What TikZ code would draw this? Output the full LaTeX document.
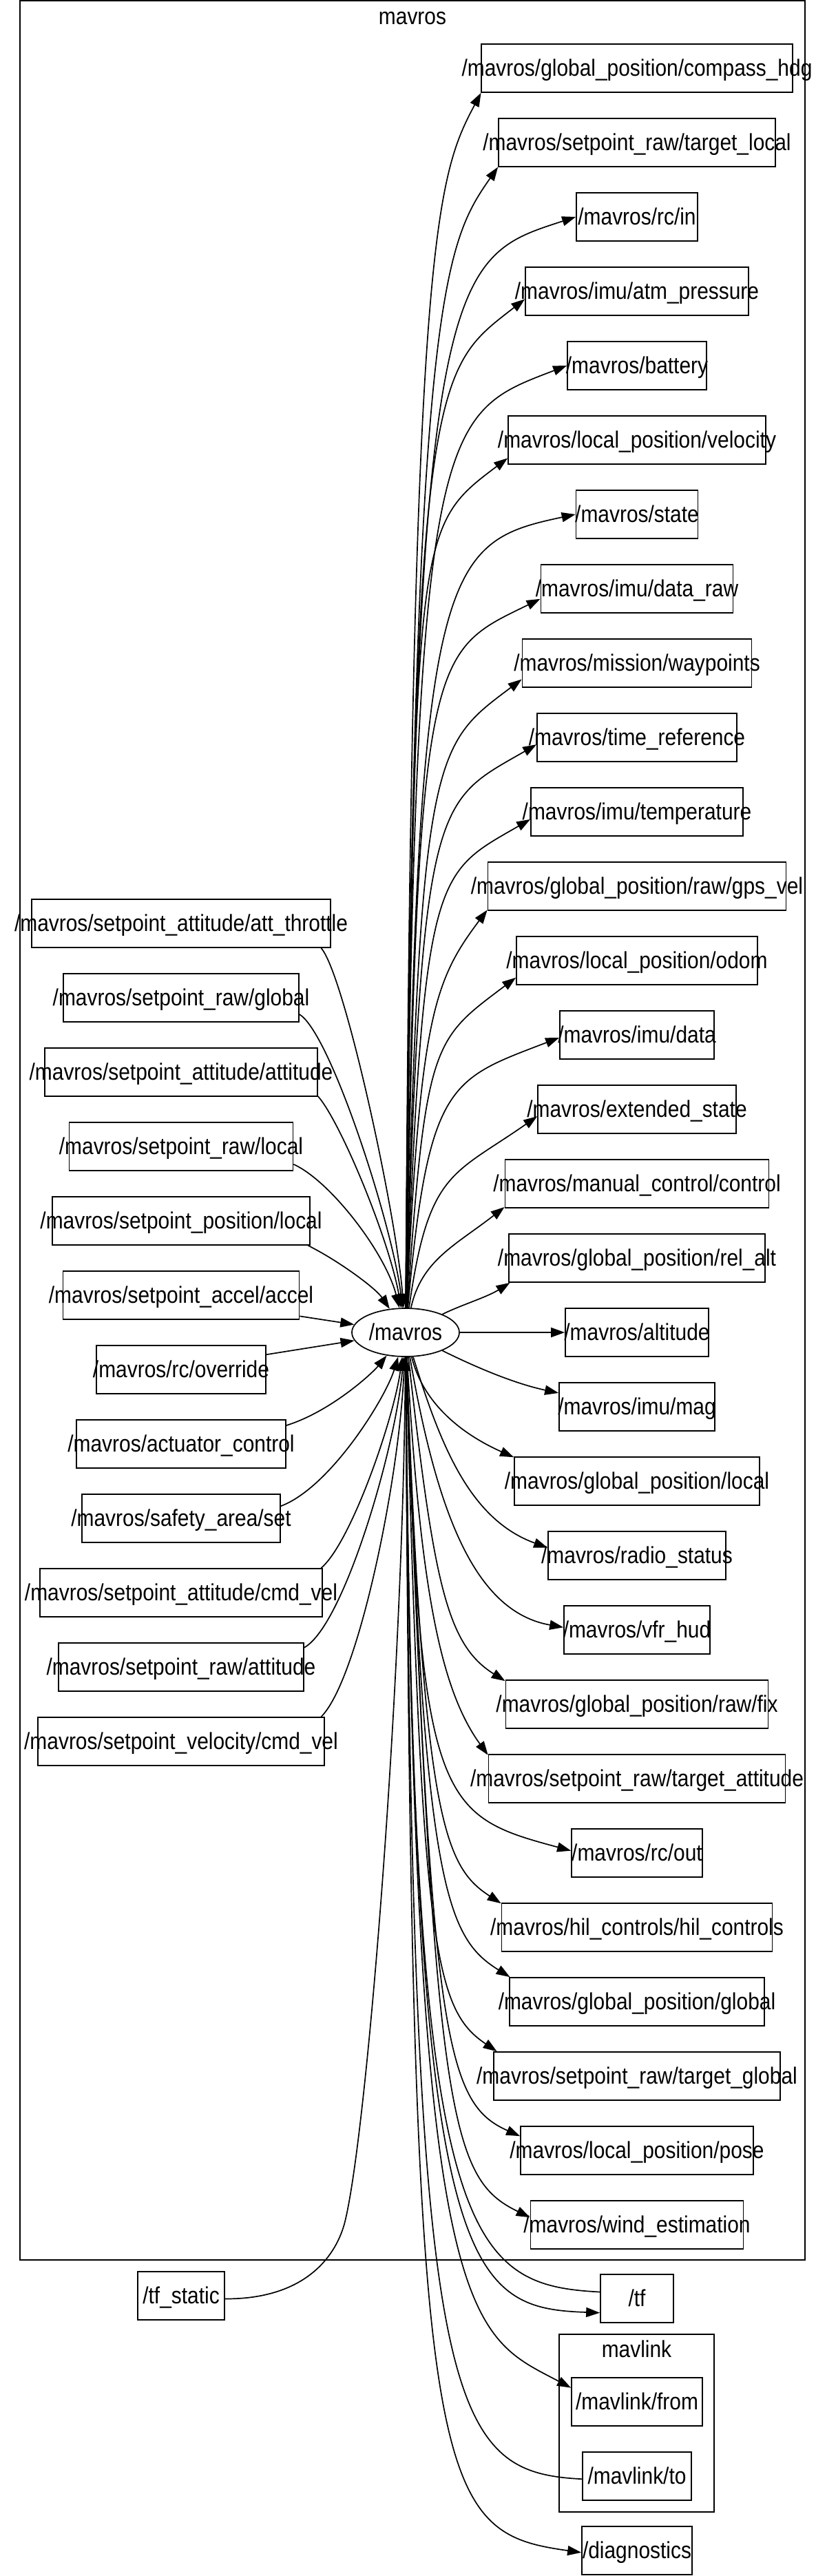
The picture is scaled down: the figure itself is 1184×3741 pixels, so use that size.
\documentclass[tikz,border=0pt]{standalone}
\usepackage{fontspec}
\setmainfont{Liberation Sans}[FakeStretch=0.88]
\usetikzlibrary{ shapes.geometric, % For the ellipse of the node
                 arrows.meta,      % For the filled arrow heads
               }
\tikzstyle{edge} = [-{Triangle[length=20pt, width=14pt]}, line width=1.7pt]
\tikzstyle{topic} = [rectangle, draw=black, line width=1.7pt, minimum height=70pt, inner sep=0pt]
\tikzstyle{vertex} = [ellipse, draw=black, line width=1.7pt, minimum width=156pt, minimum height=70pt, inner sep=0pt]
\tikzstyle{cluster} = [rectangle, draw=black, line width=1.7pt, inner sep=0pt]
\tikzstyle{title} = [text height=26pt, text depth=3pt, inner sep=0pt]
\tikzstyle{every label} = [text height=26pt, text depth=3pt, inner sep=0pt]

\begin{document}
\begin{tikzpicture}[x=1pt, y=1pt, font=\fontsize{34}{40}\selectfont]
  \useasboundingbox (0,0) rectangle (1184,-3741);

  \node (mavros_cluster) [cluster, minimum width=1140pt, minimum height=3281pt] at (599,-1641.5) {};
  \node (mavros_title) [title] at (599,-24) {mavros};
  \node (mavlink_cluster) [cluster, minimum width=225pt, minimum height=258pt] at (924.5,-3519) {};
  \node (mavlink_title) [title] at (924.5,-3411.5) {mavlink};

  \node (mavros) [vertex, label=center:{/mavros}] at (589,-1935) {};

  % topics the node listens to
  \node (att_throttle) [topic, minimum width=434pt, label=center:{/mavros/setpoint\_attitude/att\_throttle}] at (263,-1341) {};
  \node (raw_global) [topic, minimum width=342pt, label=center:{/mavros/setpoint\_raw/global}] at (263,-1449) {};
  \node (sp_attitude) [topic, minimum width=396pt, label=center:{/mavros/setpoint\_attitude/attitude}] at (263,-1557) {};
  \node (raw_local) [topic, minimum width=325pt, label=center:{/mavros/setpoint\_raw/local}] at (263,-1665) {};
  \node (position_local) [topic, minimum width=374pt, label=center:{/mavros/setpoint\_position/local}] at (263,-1773) {};
  \node (accel) [topic, minimum width=343pt, label=center:{/mavros/setpoint\_accel/accel}] at (263,-1881) {};
  \node (rc_override) [topic, minimum width=246pt, label=center:{/mavros/rc/override}] at (263,-1989) {};
  \node (actuator_control) [topic, minimum width=304pt, label=center:{/mavros/actuator\_control}] at (263,-2097) {};
  \node (safety_area) [topic, minimum width=288pt, label=center:{/mavros/safety\_area/set}] at (263,-2205) {};
  \node (att_cmd_vel) [topic, minimum width=410pt, label=center:{/mavros/setpoint\_attitude/cmd\_vel}] at (263,-2313) {};
  \node (raw_attitude) [topic, minimum width=356pt, label=center:{/mavros/setpoint\_raw/attitude}] at (263,-2421) {};
  \node (vel_cmd_vel) [topic, minimum width=416pt, label=center:{/mavros/setpoint\_velocity/cmd\_vel}] at (263,-2529) {};
  \node (tf_static) [topic, minimum width=126pt, label=center:{/tf\_static}] at (263,-3334) {};

  % topics the node publishes
  \node (compass_hdg) [topic, minimum width=452pt, label=center:{/mavros/global\_position/compass\_hdg}] at (925,-99) {};
  \node (target_local) [topic, minimum width=402pt, label=center:{/mavros/setpoint\_raw/target\_local}] at (925,-207) {};
  \node (rc_in) [topic, minimum width=176pt, label=center:{/mavros/rc/in}] at (925,-315) {};
  \node (atm_pressure) [topic, minimum width=324pt, label=center:{/mavros/imu/atm\_pressure}] at (925,-423) {};
  \node (battery) [topic, minimum width=202pt, label=center:{/mavros/battery}] at (925,-531) {};
  \node (lp_velocity) [topic, minimum width=374pt, label=center:{/mavros/local\_position/velocity}] at (925,-639) {};
  \node (state) [topic, minimum width=177pt, label=center:{/mavros/state}] at (925,-747) {};
  \node (data_raw) [topic, minimum width=279pt, label=center:{/mavros/imu/data\_raw}] at (925,-855) {};
  \node (waypoints) [topic, minimum width=333pt, label=center:{/mavros/mission/waypoints}] at (925,-963) {};
  \node (time_reference) [topic, minimum width=290pt, label=center:{/mavros/time\_reference}] at (925,-1071) {};
  \node (temperature) [topic, minimum width=308pt, label=center:{/mavros/imu/temperature}] at (925,-1179) {};
  \node (gps_vel) [topic, minimum width=433pt, label=center:{/mavros/global\_position/raw/gps\_vel}] at (925,-1287) {};
  \node (lp_odom) [topic, minimum width=350pt, label=center:{/mavros/local\_position/odom}] at (925,-1395) {};
  \node (imu_data) [topic, minimum width=224pt, label=center:{/mavros/imu/data}] at (925,-1503) {};
  \node (extended_state) [topic, minimum width=288pt, label=center:{/mavros/extended\_state}] at (925,-1611) {};
  \node (manual_control) [topic, minimum width=383pt, label=center:{/mavros/manual\_control/control}] at (925,-1719) {};
  \node (rel_alt) [topic, minimum width=372pt, label=center:{/mavros/global\_position/rel\_alt}] at (925,-1827) {};
  \node (altitude) [topic, minimum width=208pt, label=center:{/mavros/altitude}] at (925,-1935) {};
  \node (imu_mag) [topic, minimum width=226pt, label=center:{/mavros/imu/mag}] at (925,-2043) {};
  \node (gp_local) [topic, minimum width=356pt, label=center:{/mavros/global\_position/local}] at (925,-2151) {};
  \node (radio_status) [topic, minimum width=258pt, label=center:{/mavros/radio\_status}] at (925,-2259) {};
  \node (vfr_hud) [topic, minimum width=212pt, label=center:{/mavros/vfr\_hud}] at (925,-2367) {};
  \node (raw_fix) [topic, minimum width=381pt, label=center:{/mavros/global\_position/raw/fix}] at (925,-2475) {};
  \node (target_attitude) [topic, minimum width=431pt, label=center:{/mavros/setpoint\_raw/target\_attitude}] at (925,-2583) {};
  \node (rc_out) [topic, minimum width=190pt, label=center:{/mavros/rc/out}] at (925,-2691) {};
  \node (hil_controls) [topic, minimum width=393pt, label=center:{/mavros/hil\_controls/hil\_controls}] at (925,-2799) {};
  \node (gp_global) [topic, minimum width=370pt, label=center:{/mavros/global\_position/global}] at (925,-2907) {};
  \node (target_global) [topic, minimum width=416pt, label=center:{/mavros/setpoint\_raw/target\_global}] at (925,-3015) {};
  \node (lp_pose) [topic, minimum width=338pt, label=center:{/mavros/local\_position/pose}] at (925,-3123) {};
  \node (wind_estimation) [topic, minimum width=309pt, label=center:{/mavros/wind\_estimation}] at (925,-3231) {};
  \node (tf) [topic, minimum width=106pt, label=center:{/tf}] at (925,-3338) {};
  \node (mavlink_from) [topic, minimum width=190pt, label=center:{/mavlink/from}] at (925,-3488) {};
  \node (mavlink_to) [topic, minimum width=158pt, label=center:{/mavlink/to}] at (925,-3596) {};
  \node (diagnostics) [topic, minimum width=160pt, label=center:{/diagnostics}] at (925,-3704) {};

  % incoming
  \draw [edge] (att_throttle.-10) .. controls (500,-1415) and (575,-1760) .. (mavros);
  \draw [edge] (raw_global.-8) .. controls (480,-1500) and (570,-1780) .. (mavros);
  \draw [edge] (sp_attitude.-10) .. controls (495,-1630) and (565,-1800) .. (mavros);
  \draw [edge] (raw_local.-9) .. controls (480,-1715) and (560,-1820) .. (mavros);
  \draw [edge] (position_local.-11) .. controls (490,-1830) and (545,-1870) .. (mavros);
  \draw [edge] (accel.-10) -- (mavros);
  \draw [edge] (rc_override.10) -- (mavros);
  \draw [edge] (actuator_control.10) .. controls (480,-2050) and (540,-1995) .. (mavros);
  \draw [edge] (safety_area.7) .. controls (480,-2160) and (560,-2030) .. (mavros);
  \draw [edge] (att_cmd_vel.10) .. controls (510,-2240) and (572,-2060) .. (mavros);
  \draw [edge] (raw_attitude.9) .. controls (500,-2360) and (575,-2100) .. (mavros);
  \draw [edge] (vel_cmd_vel.10) .. controls (520,-2440) and (580,-2150) .. (mavros);
  \draw [edge] (tf_static.-4) .. controls (440,-3339) and (486,-3280) .. (500,-3230) .. controls (532,-3110) and (585,-2450) .. (mavros);
  \draw [edge] (tf.170) .. controls +(177:200) and (598,-3250) .. (mavros);
  \draw [edge] (mavlink_to.183) .. controls +(177:200) and (598,-3500) .. (mavros);

  % outgoing
  \draw [edge] (mavros) .. controls (598,-350) and +(242:140) .. (compass_hdg.189);
  \draw [edge] (mavros) .. controls (600,-440) and +(235:140) .. (target_local.190);
  \draw [edge] (mavros) .. controls (600,-380) and +(198:196) .. (rc_in.180);
  \draw [edge] (mavros) .. controls (600,-533) and +(218:170) .. (atm_pressure.184);
  \draw [edge] (mavros) .. controls (602,-601) and +(201:200) .. (battery.180);
  \draw [edge] (mavros) .. controls (603,-764) and +(217:170) .. (lp_velocity.188);
  \draw [edge] (mavros) .. controls (605,-817) and +(192:200) .. (state.180);
  \draw [edge] (mavros) .. controls (607,-938) and +(206:180) .. (data_raw.186);
  \draw [edge] (mavros) .. controls (610,-1085) and +(217:160) .. (waypoints.188);
  \draw [edge] (mavros) .. controls (612,-1150) and +(210:170) .. (time_reference.184);
  \draw [edge] (mavros) .. controls (615,-1260) and +(210:160) .. (temperature.184);
  \draw [edge] (mavros) .. controls (610,-1480) and +(233:130) .. (gps_vel.189);
  \draw [edge] (mavros) .. controls (618,-1510) and +(217:150) .. (lp_odom.188);
  \draw [edge] (mavros) .. controls (622,-1570) and +(201:170) .. (imu_data.182);
  \draw [edge] (mavros) .. controls (622,-1700) and +(215:150) .. (extended_state.184);
  \draw [edge] (mavros) .. controls (612,-1830) and +(218:90) .. (manual_control.190);
  \draw [edge] (mavros) .. controls (670,-1895) and +(212:40) .. (rel_alt.191);
  \draw [edge] (mavros) -- (altitude);
  \draw [edge] (mavros) .. controls (700,-1990) and +(168:60) .. (imu_mag.170);
  \draw [edge] (mavros) .. controls (615,-2040) and +(156:80) .. (gp_local.169);
  \draw [edge] (mavros) .. controls (640,-2100) and +(160:120) .. (radio_status.175);
  \draw [edge] (mavros) .. controls (635,-2200) and +(170:130) .. (vfr_hud.178);
  \draw [edge] (mavros) .. controls (630,-2300) and +(148:100) .. (raw_fix.170);
  \draw [edge] (mavros) .. controls (610,-2300) and +(126:120) .. (target_attitude.171);
  \draw [edge] (mavros) .. controls (610,-2620) and +(165:200) .. (rc_out.178);
  \draw [edge] (mavros) .. controls (615,-2640) and +(147:100) .. (hil_controls.170);
  \draw [edge] (mavros) .. controls (615,-2740) and +(148:110) .. (gp_global.169);
  \draw [edge] (mavros) .. controls (612,-2830) and +(146:110) .. (target_global.170);
  \draw [edge] (mavros) .. controls (625,-2960) and +(156:120) .. (lp_pose.173);
  \draw [edge] (mavros) .. controls (630,-3080) and +(154:130) .. (wind_estimation.176);
  \draw [edge] (mavros) .. controls (600,-3300) and +(178:200) .. (tf.201);
  \draw [edge] (mavros) .. controls (600,-3390) and +(152:170) .. (mavlink_from.168);
  \draw [edge] (mavros) .. controls (598,-3620) and +(172:220) .. (diagnostics.182);

\end{tikzpicture}
\end{document}
